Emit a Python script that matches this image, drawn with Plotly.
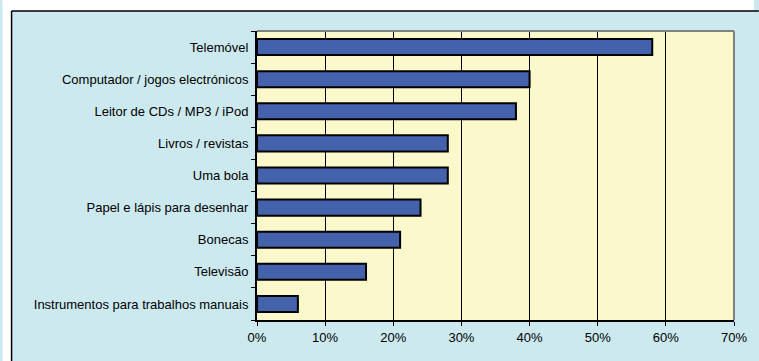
import plotly.graph_objects as go

categories = [
    "Telemóvel",
    "Computador / jogos electrónicos",
    "Leitor de CDs / MP3 / iPod",
    "Livros / revistas",
    "Uma bola",
    "Papel e lápis para desenhar",
    "Bonecas",
    "Televisão",
    "Instrumentos para trabalhos manuais",
]
values = [58, 40, 38, 28, 28, 24, 21, 16, 6]
tick_vals = [0, 10, 20, 30, 40, 50, 60, 70]
tick_text = ["0%", "10%", "20%", "30%", "40%", "50%", "60%", "70%"]

W, H = 759, 361
L, R, T, B = 257, 20, 31, 41
pw, ph = W - L - R, H - T - B

def px(x):
    return (x - L) / pw

def py(y):
    return (H - B - y) / ph

fig = go.Figure(go.Bar(
    x=values, y=categories, orientation="h", width=0.5,
    marker=dict(color="#4461AC", line=dict(color="black", width=2)),
))

shapes = [
    dict(type="rect", xref="paper", yref="paper", x0=px(0), x1=px(W), y0=py(11), y1=py(0),
         fillcolor="white", line=dict(width=0), layer="above"),
    dict(type="rect", xref="paper", yref="paper", x0=px(0), x1=px(9), y0=py(H), y1=py(0),
         fillcolor="white", line=dict(width=0), layer="above"),
    dict(type="line", xref="paper", yref="paper", x0=px(9), x1=px(W + 5), y0=py(11), y1=py(11),
         line=dict(color="black", width=1.5), layer="above"),
    dict(type="line", xref="paper", yref="paper", x0=px(9), x1=px(9), y0=py(11), y1=py(H + 5),
         line=dict(color="black", width=1.5), layer="above"),
    dict(type="line", xref="paper", yref="paper", x0=0, x1=1, y0=1, y1=1,
         line=dict(color="#808080", width=2), layer="above"),
    dict(type="line", xref="paper", yref="paper", x0=1, x1=1, y0=0, y1=1,
         line=dict(color="#808080", width=2), layer="above"),
]

fig.update_layout(
    width=W, height=H,
    margin=dict(l=L, r=R, t=T, b=B),
    paper_bgcolor="#CCE9F0",
    plot_bgcolor="#FBF8CC",
    font=dict(family="Liberation Sans", size=13, color="black"),
    showlegend=False,
    shapes=shapes,
    xaxis=dict(
        range=[0, 70], tickmode="array", tickvals=tick_vals, ticktext=tick_text,
        showgrid=True, gridcolor="black", gridwidth=1,
        showline=True, linecolor="black", linewidth=2,
        ticks="outside", ticklen=4, tickcolor="black", tickwidth=1,
        zeroline=False, fixedrange=True,
    ),
    yaxis=dict(
        categoryorder="array", categoryarray=categories[::-1],
        tickson="boundaries", ticks="outside", ticklen=4, tickcolor="black", tickwidth=1,
        showgrid=False, showline=True, linecolor="black", linewidth=2,
        ticklabelstandoff=4, zeroline=False, fixedrange=True,
    ),
)

fig.write_html("out.html")
